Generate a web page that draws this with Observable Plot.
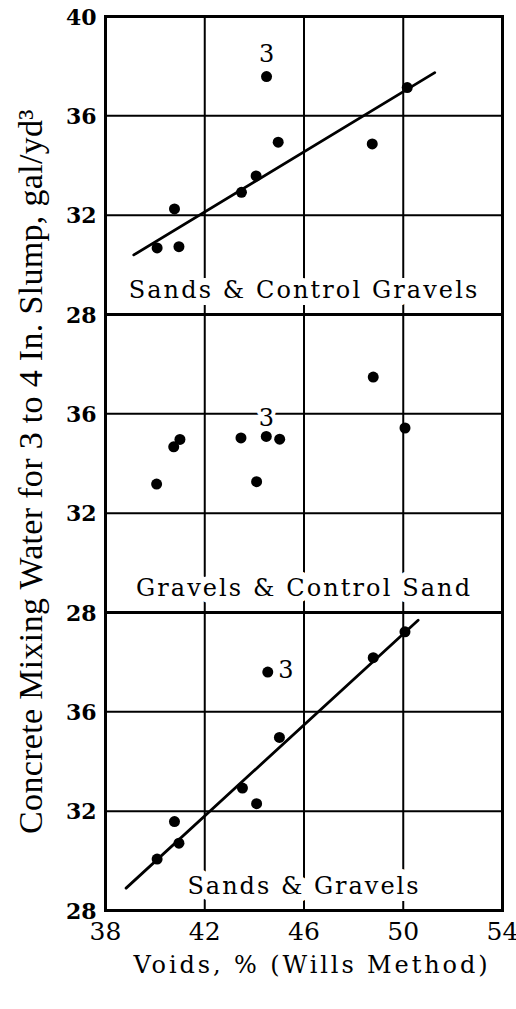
<!DOCTYPE html>
<html>
<head>
<meta charset="utf-8">
<script src="https://cdn.jsdelivr.net/npm/d3@7"></script>
<script src="https://cdn.jsdelivr.net/npm/@observablehq/plot@0.6"></script>
<style>
  html, body { margin: 0; padding: 0; background: #fff; }
  #chart svg { display: block; }
</style>
</head>
<body>
<div id="chart"></div>
<script>
// ---- data ----
const panels = ["Sands & Control Gravels", "Gravels & Control Sand", "Sands & Gravels"];

const voidsTop = [40.08, 40.96, 40.78, 43.48, 44.07, 44.49, 44.96, 48.75, 50.16];
const waterTop = [30.68, 30.73, 32.25, 32.92, 33.58, 37.58, 34.94, 34.87, 37.14];

const voidsMid = [40.06, 40.75, 41.00, 43.46, 44.09, 44.48, 45.02, 48.79, 50.07];
const waterMid = [33.17, 34.67, 34.97, 35.03, 33.27, 35.09, 34.98, 37.48, 35.43];

const voidsBot = [40.08, 40.78, 40.96, 43.52, 44.09, 44.54, 45.01, 48.79, 50.07];
const waterBot = [30.07, 31.58, 30.71, 32.93, 32.30, 37.60, 34.97, 38.18, 39.22];

// fitted lines (end points as drawn)
const fitTopVoids = [39.14, 51.27];
const fitTopWater = [30.40, 37.74];
const fitBotVoids = [38.83, 50.60];
const fitBotWater = [28.90, 39.69];

const labeledIndex = 5;          // point marked "3"
const pointNote = "3";

const xTicks = [38, 42, 46, 50, 54];
const xGrid = [42, 46, 50];
const yGrid = [32, 36];
const yTicksTop = [40, 36, 32, 28];
const yTicksMid = [36, 32, 28];
const yTicksBot = [36, 32, 28];

const xLabel = "Voids, % (Wills Method)";
const yLabel = "Concrete Mixing Water for 3 to 4 In. Slump, gal/yd³";

// ---- tables ----
const rows = (vx, vy, p) => vx.map((v, i) => ({panel: p, voids: v, water: vy[i], i}));
const points = [
  ...rows(voidsTop, waterTop, panels[0]),
  ...rows(voidsMid, waterMid, panels[1]),
  ...rows(voidsBot, waterBot, panels[2])
];
const fits = [
  ...rows(fitTopVoids, fitTopWater, panels[0]),
  ...rows(fitBotVoids, fitBotWater, panels[2])
];
const yTickRows = [
  ...yTicksTop.map(v => ({panel: panels[0], v})),
  ...yTicksMid.map(v => ({panel: panels[1], v})),
  ...yTicksBot.map(v => ({panel: panels[2], v}))
];
const noted = points.filter(d => d.i === labeledIndex);

const FONT = "DejaVu Serif";
const FS = 24;

const plot = Plot.plot({
  width: 516,
  height: 1009,
  marginTop: 15,
  marginRight: 14,
  marginBottom: 98,
  marginLeft: 105,
  style: {fontFamily: FONT, background: "white", color: "black", overflow: "visible"},
  x: {domain: [38, 54], axis: null},
  y: {domain: [28, 40], axis: null},
  fy: {domain: panels, padding: 0, axis: null},
  marks: [
    Plot.gridX(xGrid, {stroke: "black", strokeOpacity: 1, strokeWidth: 2}),
    Plot.gridY(yGrid, {stroke: "black", strokeOpacity: 1, strokeWidth: 2}),
    Plot.line(fits, {x: "voids", y: "water", z: "panel", fy: "panel", stroke: "black", strokeWidth: 2.8}),
    Plot.dot(points, {x: "voids", y: "water", fy: "panel", r: 5.5, fill: "black"}),
    // "3" notes
    Plot.text(noted.filter(d => d.panel === panels[0]), {x: "voids", y: "water", fy: "panel", text: () => pointNote, dy: -22, lineAnchor: "middle", fontSize: FS, fill: "black", stroke: "white", strokeWidth: 8}),
    Plot.text(noted.filter(d => d.panel === panels[1]), {x: "voids", y: "water", fy: "panel", text: () => pointNote, dy: -18, lineAnchor: "middle", fontSize: FS, fill: "black", stroke: "white", strokeWidth: 8}),
    Plot.text(noted.filter(d => d.panel === panels[2]), {x: "voids", y: "water", fy: "panel", text: () => pointNote, dx: 18, dy: -2, lineAnchor: "middle", fontSize: FS, fill: "black", stroke: "white", strokeWidth: 8}),
    // panel labels
    Plot.text(panels, {fy: d => d, text: d => d, frameAnchor: "bottom", lineAnchor: "middle", textAnchor: "middle", dy: -24, fontSize: FS, fill: "black", stroke: "white", strokeWidth: 14}),
    Plot.frame({stroke: "black", strokeWidth: 3}),
    // y tick labels
    Plot.text(yTickRows, {fy: "panel", y: "v", text: d => String(d.v), frameAnchor: "left", textAnchor: "end", lineAnchor: "middle", dx: -9, dy: 1, fontSize: 22, fontWeight: "bold", fill: "black"}),
    // x tick labels
    Plot.text(xTicks, {x: d => d, fy: () => panels[2], text: d => String(d), frameAnchor: "bottom", lineAnchor: "middle", textAnchor: "middle", dy: 21, fontSize: 25, fill: "black"}),
    // axis titles
    Plot.text([xLabel], {fy: () => panels[2], text: d => d, frameAnchor: "bottom", lineAnchor: "middle", textAnchor: "middle", dx: 8, dy: 55, fontSize: FS, fill: "black"}),
    Plot.text([yLabel], {fy: () => panels[1], text: d => d, frameAnchor: "left", textAnchor: "middle", lineAnchor: "middle", rotate: -90, dx: -74, dy: 8, fontFamily: "Liberation Serif", fontSize: 34, fill: "black"})
  ]
});

// letter spacing to match the typewriter-like spacing of the original
const spacing = new Map([
  [panels[0], 2.1], [panels[1], 2.1], [panels[2], 2.0],
  [xLabel, 2.9], [yLabel, 0.32]
]);
d3.select(plot).selectAll("text").each(function () {
  const s = spacing.get(this.textContent);
  if (s != null) this.setAttribute("letter-spacing", s);
});

document.getElementById("chart").append(plot);
</script>
</body>
</html>
